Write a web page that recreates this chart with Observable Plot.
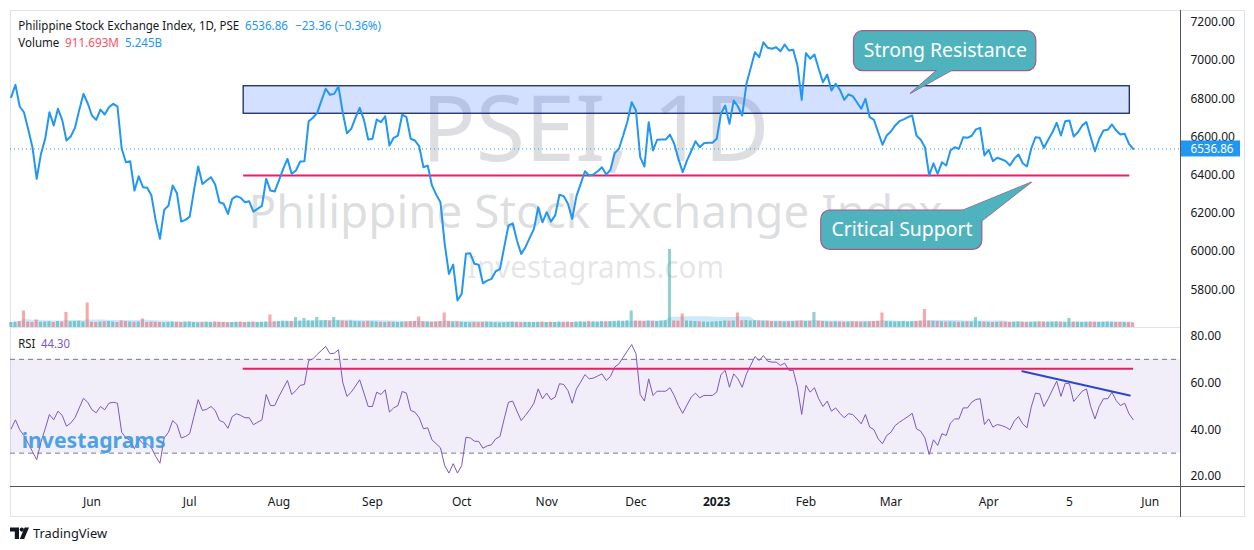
<!DOCTYPE html>
<html><head><meta charset="utf-8">
<script src="https://cdn.jsdelivr.net/npm/d3@7"></script>
<script src="https://cdn.jsdelivr.net/npm/@observablehq/plot@0.6"></script>
<style>
body{margin:0;background:#fff;}
#wrap{position:relative;width:1254px;height:550px;overflow:hidden;background:#fff;font-family:"Noto Sans",sans-serif;}
#wrap > *{position:absolute;}
</style></head><body><div id="wrap"></div>
<script>
// ---------------- data (one value per daily bar, May 2022 – May 2023) ----------------
const price = [
6808,6872,6759,6729,6640,6546,6381,6511,6590,6729,6660,6747,6689,6581,6602,6647,6740,6825,6776,6712,
6689,6743,6717,6755,6773,6760,6538,6467,6473,6319,6394,6337,6334,6293,6162,6067,6218,6241,6346,6305,
6157,6166,6183,6319,6445,6354,6372,6389,6351,6258,6250,6197,6276,6290,6281,6258,6263,6209,6224,6239,
6381,6319,6314,6372,6433,6485,6407,6424,6471,6473,6682,6700,6726,6790,6852,6820,6825,6864,6729,6619,
6642,6700,6752,6689,6586,6590,6691,6677,6708,6555,6595,6607,6716,6703,6590,6581,6550,6441,6450,6346,
6298,6258,6040,5883,5932,5744,5779,5988,5991,5936,5931,5834,5848,5857,5897,5908,6023,6136,6148,6058,
5988,6023,6072,6119,6232,6153,6206,6157,6189,6297,6290,6250,6171,6290,6354,6420,6398,6403,6420,6441,
6403,6428,6515,6538,6607,6682,6781,6738,6494,6445,6677,6529,6585,6586,6586,6612,6564,6485,6415,6476,
6525,6577,6546,6567,6569,6569,6590,6721,6764,6668,6790,6759,6712,6878,6960,7043,7017,7095,7066,7061,
7069,7048,7083,7052,7056,6974,6794,7038,7009,7031,6956,6886,6926,6843,6878,6846,6794,6822,6813,6781,
6747,6799,6703,6689,6624,6559,6607,6628,6660,6682,6692,6703,6712,6607,6585,6546,6398,6462,6407,6467,
6450,6529,6546,6538,6598,6595,6606,6639,6647,6503,6532,6473,6491,6483,6473,6450,6485,6508,6462,6445,
6538,6598,6595,6543,6585,6624,6674,6607,6682,6686,6602,6624,6660,6677,6598,6525,6590,6633,6637,6665,
6633,6612,6616,6564,6536.86];

const rsi = [
40.4,44.2,40.0,37.5,34.2,30.7,27.2,34.7,40.4,46.5,44.2,47.9,46.1,41.5,42.8,45.1,49.2,53.4,51.7,48.5,
47.2,49.9,48.5,51.3,51.7,51.3,38.9,36.5,35.4,31.9,36.1,34.0,34.0,32.3,28.6,25.7,36.5,38.9,43.9,42.2,
36.5,37.1,38.3,45.6,52.8,48.2,48.7,49.9,48.2,43.9,43.2,40.6,45.6,46.8,46.1,45.1,45.1,42.1,43.2,44.2,
55.0,50.3,50.3,54.2,57.6,61.0,55.0,56.7,58.9,59.3,69.5,70.2,72.1,73.8,75.5,72.4,72.6,74.1,60.3,54.2,
56.0,58.6,61.3,55.6,49.9,49.9,56.0,55.0,57.0,47.5,49.3,50.3,56.3,55.6,48.2,47.5,45.1,40.4,40.8,35.7,
34.0,32.3,24.7,21.5,25.5,21.5,24.7,36.8,36.5,35.1,35.0,32.1,33.1,33.6,36.1,37.1,44.6,51.7,52.2,47.9,
43.9,46.1,48.5,51.3,57.4,53.2,55.6,52.8,53.9,59.6,59.3,56.7,51.3,57.4,60.3,63.5,61.7,62.0,62.9,63.8,
61.0,62.7,66.7,68.1,70.9,73.6,76.3,72.4,55.0,52.2,61.7,54.6,56.4,56.4,56.4,57.9,54.6,50.3,47.0,50.5,
53.9,55.6,53.6,54.6,54.6,54.6,56.0,63.5,65.3,58.1,63.8,61.7,58.1,63.8,67.5,71.2,69.5,71.6,69.2,68.8,
68.8,67.4,68.4,65.3,65.3,58.1,46.5,58.9,56.0,57.9,53.2,49.9,52.2,47.9,49.3,47.0,45.1,46.8,46.5,44.6,
42.5,46.5,41.1,40.0,36.1,34.0,37.5,38.9,41.8,43.2,44.4,45.6,47.0,40.4,39.4,36.5,29.4,35.7,33.3,38.3,
37.5,42.8,44.6,44.6,49.3,49.3,51.7,52.9,53.2,42.2,44.6,41.1,42.2,41.8,41.1,40.0,43.6,45.6,42.5,40.8,
49.6,55.6,55.3,49.9,53.2,57.0,60.7,54.2,59.8,59.6,52.0,54.2,56.4,57.4,49.9,44.6,49.9,53.2,53.2,56.0,
52.4,50.3,51.3,46.8,44.3];

// volume, millions
const volume = [
1000,1100,1200,3300,1100,1000,1500,1050,1100,1150,1000,1200,1100,3000,1150,1200,1250,1100,4900,1050,
1000,1100,1150,1200,1100,1000,1300,1200,1100,1050,1100,1700,1000,1100,1050,1000,950,1000,1100,1050,
1000,1050,1100,1000,950,1000,1050,1000,1100,1050,1000,950,1000,1050,1100,1000,1050,1100,1000,1050,
1100,2500,1150,1200,1300,1250,1200,2000,1300,1800,1350,1300,2000,1350,1400,1300,2000,1350,1300,1250,
1300,1200,1150,1100,1200,1150,1100,1050,1000,1100,1050,1000,1050,1100,1150,1200,2100,1150,1100,1050,
1100,1200,2900,1200,1100,1150,1050,1000,950,1000,950,1000,1050,1000,950,900,950,1000,1050,1000,
950,1000,1050,1000,1050,1100,1000,1050,1000,1100,1050,1100,1000,1100,1150,1100,1200,1150,1100,1200,
1150,1200,1250,1300,1250,1350,3300,1300,1250,1200,1300,1250,1200,1300,1350,15600,1300,1250,2700,1300,
1250,1200,1150,1100,1050,1100,1150,1200,1300,1250,1300,2900,1350,1400,1300,1350,1300,1250,1300,1200,
1150,1200,1100,1150,1200,1250,1300,1200,1250,3000,1250,1200,1150,1100,1150,1100,1050,1100,1150,1100,
1050,1100,1150,1200,1250,2900,1200,1150,1100,1150,1200,1100,1150,1200,1300,3600,1300,1250,1200,1150,
1100,1150,1100,1050,1100,1150,1100,2000,1150,1100,1050,1000,1050,1100,1050,1000,1050,1100,1050,1000,
1050,1100,1150,1100,1050,1100,1150,1100,1050,1800,1100,1050,1000,1050,1100,1050,1000,1050,1100,1050,
1000,1050,1000,950,912];

const monthTickBars   = [19, 42, 63, 85, 106, 126, 147, 166, 187, 207, 230, 249, 268];
const monthTickLabels = ["Jun","Jul","Aug","Sep","Oct","Nov","Dec","2023","Feb","Mar","Apr","5","Jun"];
const priceTicks = [5800, 6000, 6200, 6400, 6600, 6800, 7000, 7200];
const rsiTicks = [20, 40, 60, 80];
const rsiBand = [30, 70];

// drawings made on the chart
const resistanceZone = [{x1: 54.7, x2: 263.2, low: 6721, high: 6865}];
const supportLevel = [{y: 6398, x1: 54.7, x2: 263.2}];
const rsiCeiling = [{y: 66, x1: 54.6, x2: 264.1}];
const rsiTrend = [{i: 237.9, r: 64.9}, {i: 263.2, r: 54.6}];
const callouts = [
  {text: "Strong Resistance", x1: 198.3, x2: 241.2, top: 7153, bottom: 6944, cx: 219.8, cy: 7048,
   pointer: [{i: 217.9, v: 6950}, {i: 211.6, v: 6828}, {i: 221.4, v: 6950}]},
  {text: "Critical Support", x1: 190.6, x2: 228.5, top: 6215, bottom: 6009, cx: 209.6, cy: 6112,
   pointer: [{i: 223.0, v: 6208}, {i: 240.0, v: 6363}, {i: 228.3, v: 6160}]}
];
const watermarks = ["PSEI, 1D", "Philippine Stock Exchange Index", "Investagrams.com"];

// ---------------- build ----------------
const W = 1254;
const xDomain = [-0.165, 275.13];
const FONT = "'Noto Sans', sans-serif";
const wrap = document.getElementById("wrap");
const baseStyle = {background: "transparent", fontFamily: FONT, fontSize: "12px", color: "#131722", overflow: "visible"};

const priceData = price.map((v, i) => ({i, v}));
const rsiData = rsi.map((r, i) => ({i, r}));
const volData = volume.map((v, i) => ({i, v, up: i === 0 ? true : price[i] >= price[i - 1]}));
const lastPrice = price[price.length - 1];
const lastRsi = rsi[rsi.length - 1];
const tickLabel = new Map(monthTickBars.map((b, k) => [b, monthTickLabels[k]]));

function addAbs(node, left, top, z) {
  node.style.position = "absolute"; node.style.left = left + "px"; node.style.top = top + "px";
  if (z != null) node.style.zIndex = z;
  wrap.appendChild(node);
}
function line(left, top, w, h, color) {
  const d = document.createElement("div");
  d.style.width = w + "px"; d.style.height = h + "px"; d.style.background = color;
  addAbs(d, left, top, 0);
}
// frame
const frame = document.createElement("div");
frame.style.width = "1235px"; frame.style.height = "507px"; frame.style.boxSizing = "border-box";
frame.style.border = "1px solid #e0e3eb";
addAbs(frame, 10, 10, 0);
line(10, 327, 1170, 1, "#e0e3eb");

const pricePlot = Plot.plot({
  width: W, height: 328, marginLeft: 10, marginRight: 74, marginTop: 10, marginBottom: 1,
  style: baseStyle,
  x: {domain: xDomain, axis: null},
  y: {domain: [5800, 7200], range: [289.3, 21.7], axis: null},
  marks: [
    Plot.text([watermarks[0]], {frameAnchor: "top", dy: 85, text: d => d, fontSize: 92, fill: "#787b86", fillOpacity: 0.25}),
    Plot.text([watermarks[1]], {frameAnchor: "top", dy: 185, text: d => d, fontSize: 46, fill: "#787b86", fillOpacity: 0.25}),
    Plot.text([watermarks[2]], {frameAnchor: "top", dy: 246, text: d => d, fontSize: 30, fill: "#787b86", fillOpacity: 0.2}),
    Plot.rect(resistanceZone, {x1: "x1", x2: "x2", y1: "low", y2: "high", fill: "#2962ff", fillOpacity: 0.2, stroke: "#172a63", strokeWidth: 1.3}),
    Plot.ruleY(supportLevel, {y: "y", x1: "x1", x2: "x2", stroke: "#e91e63", strokeWidth: 2}),
    Plot.ruleY([lastPrice], {stroke: "#2196f3", strokeWidth: 1, strokeDasharray: "1,3"}),
    Plot.line(priceData, {x: "i", y: "v", stroke: "#2196f3", strokeWidth: 2, strokeLinejoin: "round"}),
    ...callouts.flatMap(c => [
      Plot.line(c.pointer, {x: "i", y: "v", fill: "#4fb3be", stroke: "#a05a92", strokeWidth: 1.2}),
      Plot.rect([c], {x1: "x1", x2: "x2", y1: "bottom", y2: "top", rx: 9, ry: 9, fill: "#4fb3be", stroke: "#a05a92", strokeWidth: 1.2}),
      Plot.line(c.pointer, {x: "i", y: "v", fill: "#4fb3be", stroke: "none"}),
      Plot.text([c], {x: "cx", y: "cy", text: "text", fill: "white", fontSize: 19})
    ]),
    Plot.axisY(priceTicks, {anchor: "right", tickSize: 0, tickPadding: 10, tickFormat: d => d.toFixed(2), fontSize: 12})
  ]
});
addAbs(pricePlot, 0, 0, 1);

const volPlot = Plot.plot({
  width: W, height: 90, marginLeft: 10, marginRight: 74, marginTop: 0, marginBottom: 0,
  style: baseStyle,
  x: {domain: xDomain, axis: null},
  y: {domain: [0, 18000], axis: null},
  marks: [
    Plot.areaY(volData, Plot.windowY({k: 20, anchor: "end"}, {x: "i", y: "v", fill: "#2196f3", fillOpacity: 0.22})),
    Plot.rectY(volData, {x1: d => d.i - 0.36, x2: d => d.i + 0.36, y: "v", fill: d => d.up ? "#26a69a" : "#ef5350", fillOpacity: 0.5})
  ]
});
addAbs(volPlot, 0, 237, 2);

const rsiPlot = Plot.plot({
  width: W, height: 190, marginLeft: 10, marginRight: 74, marginTop: 0, marginBottom: 31,
  style: baseStyle,
  x: {domain: xDomain, axis: null},
  y: {domain: [20, 80], range: [148.1, 7.4], axis: null},
  marks: [
    Plot.rect([rsiBand], {x1: xDomain[0], x2: xDomain[1], y1: d => d[0], y2: d => d[1], fill: "#7e57c2", fillOpacity: 0.1}),
    Plot.ruleY(rsiBand, {stroke: "#787b86", strokeDasharray: "5,4", strokeWidth: 1}),
    Plot.ruleY(rsiCeiling, {y: "y", x1: "x1", x2: "x2", stroke: "#e91e63", strokeWidth: 2}),
    Plot.line(rsiData, {x: "i", y: "r", stroke: "#7e57c2", strokeWidth: 1}),
    Plot.line(rsiTrend, {x: "i", y: "r", stroke: "#2f47c4", strokeWidth: 2}),
    Plot.axisY(rsiTicks, {anchor: "right", tickSize: 0, tickPadding: 10, tickFormat: d => d.toFixed(2), fontSize: 12}),
    Plot.axisX(monthTickBars, {anchor: "bottom", tickSize: 0, tickPadding: 10, tickFormat: d => tickLabel.get(d), fontSize: 12})
  ]
});
addAbs(rsiPlot, 0, 328, 1);
rsiPlot.querySelectorAll("text").forEach(t => { if (t.textContent === "2023") t.setAttribute("font-weight", "bold"); });

// axis separators
line(1180, 10, 1, 507, "#50535e");
line(10, 486, 1235, 1, "#50535e");

// fit watermark / callout widths
const fitWidths = new Map([["PSEI, 1D", 348], ["Philippine Stock Exchange Index", 694], ["Investagrams.com", 257],
  ["Strong Resistance", 163], ["Critical Support", 141]]);
pricePlot.querySelectorAll("text").forEach(t => {
  const w = fitWidths.get(t.textContent);
  if (w) { t.setAttribute("textLength", w); t.setAttribute("lengthAdjust", "spacingAndGlyphs"); }
});

// overlay: legends, last value tag, logos
const yPrice = pricePlot.scale("y");
const ov = d3.create("svg").attr("width", W).attr("height", 550)
  .style("position", "absolute").style("left", "0px").style("top", "0px").style("z-index", 3)
  .style("font-family", FONT);
function txt(str, x, y, size, color, width, weight) {
  const t = ov.append("text").attr("x", x).attr("y", y).attr("font-size", size).attr("fill", color).text(str);
  if (width) t.attr("textLength", width).attr("lengthAdjust", "spacingAndGlyphs");
  if (weight) t.attr("font-weight", weight);
  return t;
}
txt("Philippine Stock Exchange Index, 1D, PSE", 18.3, 29.5, 12.5, "#131722", 221);
txt(lastPrice.toFixed(2), 245, 29.5, 12.5, "#2196f3", 43);
txt("\u221223.36 (\u22120.36%)", 295, 29.5, 12.5, "#2196f3", 86);
txt("Volume", 18.3, 46.5, 12.5, "#131722", 41);
txt("911.693M", 65, 46.5, 12.5, "#f7525f", 54);
txt("5.245B", 125, 46.5, 12.5, "#2196f3", 37);
txt("RSI", 18.3, 347.5, 12.5, "#131722", 17);
txt(lastRsi.toFixed(2), 41, 347.5, 12.5, "#7e57c2", 29);
// last price tag on the axis
const py = yPrice.apply(lastPrice);
ov.append("rect").attr("x", 1181).attr("y", py - 8).attr("width", 59).attr("height", 16).attr("fill", "#2196f3");
txt(lastPrice.toFixed(2), 1190.5, py + 4.3, 12, "#ffffff", 43);
// investagrams logo
txt("investagrams", 21.7, 447.5, 21, "#3c9be3", 144, "bold").attr("fill-opacity", 0.92);
// TradingView logo
const g = ov.append("g").attr("fill", "#131722");
g.append("path").attr("d", "M10 527.5h9v11.5h-4.2v-7.6H10z");
g.append("circle").attr("cx", 21.8).attr("cy", 529.6).attr("r", 2.1);
g.append("path").attr("d", "M24.6 527.5h4.4l-4.8 11.5h-4.4z");
txt("TradingView", 33, 538, 13, "#131722", 74);
wrap.appendChild(ov.node());
</script></body></html>
